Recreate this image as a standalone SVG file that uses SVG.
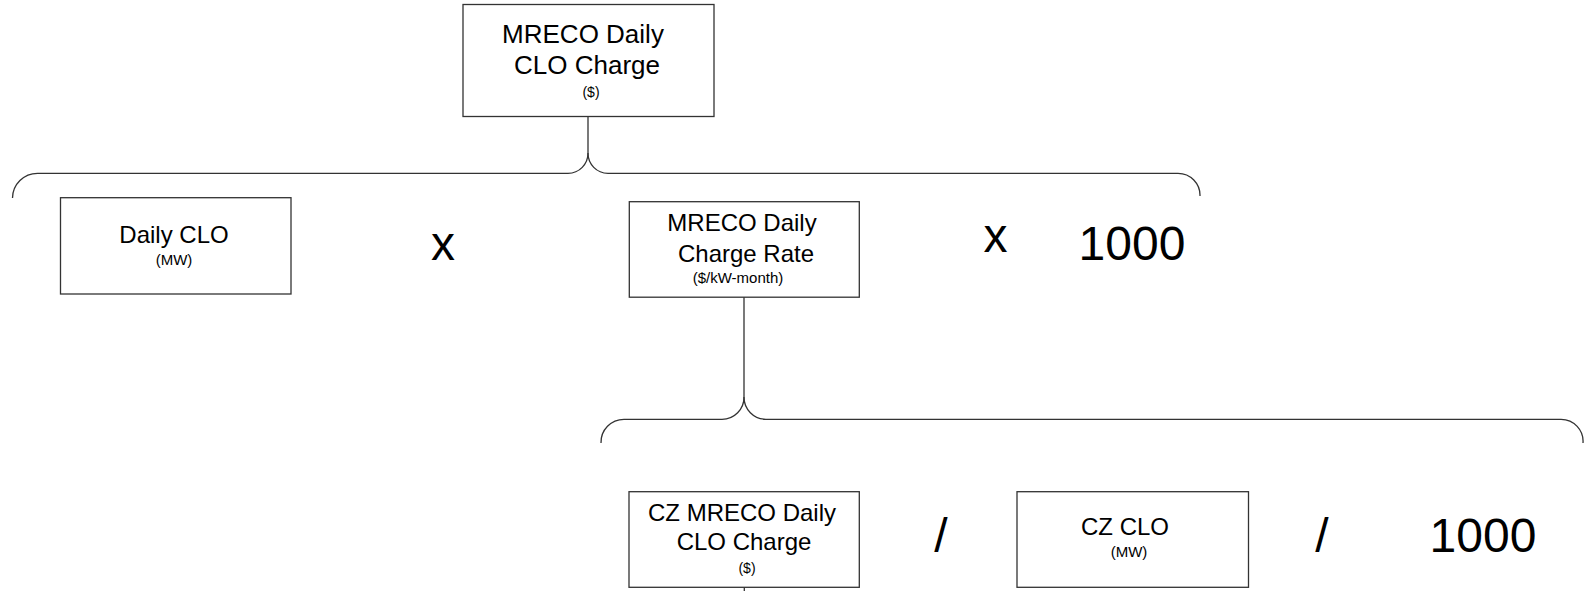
<svg xmlns="http://www.w3.org/2000/svg" width="1588" height="591" viewBox="0 0 1588 591">
<style>
.box{fill:#ffffff;stroke:#333333;stroke-width:1.3}
.ln{fill:none;stroke:#333333;stroke-width:1.3}
.t{font-family:"Liberation Sans",Arial,sans-serif;fill:#000000;text-anchor:middle}
.m{font-size:24px}
.l{font-size:26px}
.s{font-size:14px}
.op{font-size:48px}
</style>
<rect width="1588" height="591" fill="#ffffff"/>
<g id="connectors">
<path class="ln" d="M588,117 V153 A20,20 0 0 1 568,173.3 H37.5 A25,25 0 0 0 12.5,198"/>
<path class="ln" d="M588,153 A20,20 0 0 0 608,173.3 H1178 A22,22 0 0 1 1200,196"/>
<path class="ln" d="M744,297 V397 A22,22 0 0 1 722,419.3 H624 A23,23 0 0 0 601,443"/>
<path class="ln" d="M744,397 A22,22 0 0 0 766,419.3 H1561 A22,22 0 0 1 1583,443"/>
<path class="ln" d="M744.3,587 V591"/>
</g>
<g id="node-mreco-daily-clo-charge">
<rect class="box" x="463" y="4.5" width="251" height="112"/>
<text class="t l" x="583" y="43">MRECO Daily</text>
<text class="t l" x="587" y="74">CLO Charge</text>
<text class="t s" x="591" y="97">($)</text>
</g>
<g id="node-daily-clo">
<rect class="box" x="60.5" y="197.7" width="230.5" height="96.3"/>
<text class="t m" x="174" y="243">Daily CLO</text>
<text class="t" style="font-size:15px" x="174" y="265">(MW)</text>
</g>
<g id="op-x1"><text class="t op" x="443" y="260">x</text></g>
<g id="node-mreco-daily-charge-rate">
<rect class="box" x="629.3" y="201.7" width="230" height="95.5"/>
<text class="t m" x="742" y="231">MRECO Daily</text>
<text class="t m" x="746" y="262">Charge Rate</text>
<text class="t" style="font-size:15px" x="738" y="283">($/kW-month)</text>
</g>
<g id="op-x2"><text class="t op" x="995.5" y="252">x</text></g>
<g id="const-1000-top"><text class="t op" x="1132" y="260">1000</text></g>
<g id="node-cz-mreco-daily-clo-charge">
<rect class="box" x="629" y="491.7" width="230.3" height="95.6"/>
<text class="t m" x="742" y="521">CZ MRECO Daily</text>
<text class="t m" x="744" y="550">CLO Charge</text>
<text class="t s" x="747" y="573">($)</text>
</g>
<g id="op-div1"><text class="t op" x="941" y="552">/</text></g>
<g id="node-cz-clo">
<rect class="box" x="1017" y="491.7" width="231.5" height="95.6"/>
<text class="t m" x="1125" y="535">CZ CLO</text>
<text class="t" style="font-size:15px" x="1129" y="557">(MW)</text>
</g>
<g id="op-div2"><text class="t op" x="1322" y="552">/</text></g>
<g id="const-1000-bottom"><text class="t op" x="1483" y="552">1000</text></g>
</svg>
